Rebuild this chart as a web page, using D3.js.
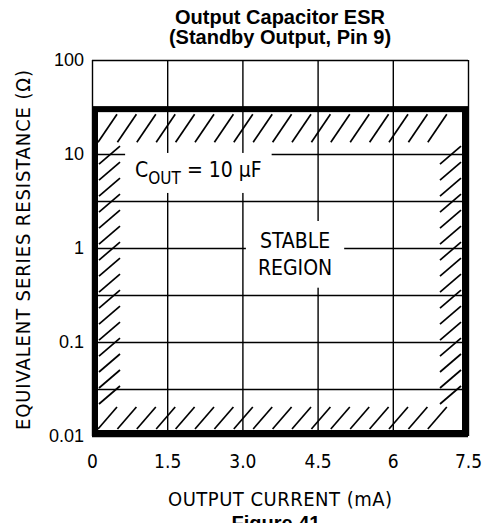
<!DOCTYPE html>
<html>
<head>
<meta charset="utf-8">
<script src="https://cdn.jsdelivr.net/npm/d3@7"></script>
<style>
  body { margin: 0; background: #fff; }
  svg { display: block; }
</style>
</head>
<body>
<script>
// chart values
var titleLines = ["Output Capacitor ESR", "(Standby Output, Pin 9)"];
var xTicks = [0, 1.5, 3.0, 4.5, 6, 7.5];
var xTickLabels = ["0", "1.5", "3.0", "4.5", "6", "7.5"];
var yTicks = [0.01, 0.1, 1, 10, 100];
var yTickLabels = ["0.01", "0.1", "1", "10", "100"];
var yGrid = [0.01, 0.0316, 0.1, 0.316, 1, 3.16, 10, 31.6, 100];
var stableCurrent = [0, 7.5];   // mA
var stableEsr = [0.01, 30];     // ohm
var xTitle = "OUTPUT CURRENT (mA)";
var yTitle = "EQUIVALENT SERIES RESISTANCE (\u03A9)";
var figLabel = "Figure 41";

var W = 485, H = 523;
var cond = "'DejaVu Sans Condensed', 'DejaVu Sans', sans-serif";
var arial = "'Liberation Sans', Arial, sans-serif";

var svg = d3.select("body").append("svg")
    .attr("width", W)
    .attr("height", H);

// scales
var x = d3.scaleLinear().domain([0, 7.5]).range([92, 468]);
var y = d3.scaleLog().domain([0.01, 100]).range([436, 60]);

// grid
var gx = svg.append("g")
    .attr("transform", "translate(0," + y(0.01) + ")")
    .call(d3.axisBottom(x).tickValues(xTicks).tickSize(-(y(0.01) - y(100))).tickFormat(""));
var gy = svg.append("g")
    .attr("transform", "translate(" + x(0) + ",0)")
    .call(d3.axisLeft(y).tickValues(yGrid).tickSize(-(x(7.5) - x(0))).tickFormat(""));
[gx, gy].forEach(function (g) {
    g.select(".domain").remove();
    g.selectAll(".tick line").attr("stroke", "#000").attr("stroke-width", 1.4);
});

// stable region frame
var sw = 6;
var fx0 = x(stableCurrent[0]) + sw / 2, fx1 = x(stableCurrent[1]) - sw / 2;
var fy0 = y(stableEsr[1]), fy1 = y(stableEsr[0]) - sw / 2;
svg.append("rect")
    .attr("x", fx0).attr("y", fy0)
    .attr("width", fx1 - fx0).attr("height", fy1 - fy0)
    .attr("fill", "none").attr("stroke", "#000").attr("stroke-width", sw);

// hatching along the inside of the frame
var L = fx0 + sw / 2, R = fx1 - sw / 2, T = fy0 + sw / 2, B = fy1 - sw / 2;
var hatch = [];
var xs;
for (xs = L; xs + 18 <= R; xs += 19.4) hatch.push([xs, T + 30, xs + 19, T + 2]);      // top
for (xs = L; xs + 19 <= R; xs += 19.4) hatch.push([xs, B - 1, xs + 19, B - 23]);      // bottom
var vy0 = T + 52, vy1 = B - 26, n = 16, k;
for (k = 0; k < n; k++) {
    var ys = vy0 + k * (vy1 - vy0) / (n - 1);
    hatch.push([L + 1, ys, L + 22, ys - 18]);                                           // left
    hatch.push([R - 22, ys, R - 1, ys - 18]);                                           // right
}
svg.append("g").selectAll("line").data(hatch).join("line")
    .attr("x1", function (d) { return d[0]; })
    .attr("y1", function (d) { return d[1]; })
    .attr("x2", function (d) { return d[2]; })
    .attr("y2", function (d) { return d[3]; })
    .attr("stroke", "#000").attr("stroke-width", 1.7);

// annotations (white boxes break the grid)
function boxed(g, padX, padY) {
    var b = g.node().getBBox();
    g.insert("rect", ":first-child")
        .attr("x", b.x - padX).attr("y", b.y - padY)
        .attr("width", b.width + 2 * padX).attr("height", b.height + 2 * padY)
        .attr("fill", "#fff");
}
var cout = svg.append("g");
var ct = cout.append("text")
    .attr("x", x(0.86)).attr("y", y(5.7))
    .attr("font-family", cond).attr("font-size", 21);
ct.append("tspan").text("C");
ct.append("tspan").attr("font-size", 17).attr("dy", 7).text("OUT");
ct.append("tspan").attr("dy", -7).text(" = 10 \u03BCF");
boxed(cout, 10, 5);

var stable = svg.append("g");
stable.append("text")
    .attr("x", x(4.05)).attr("y", y(1))
    .attr("text-anchor", "middle")
    .attr("font-family", cond).attr("font-size", 21)
    .text("STABLE");
stable.append("text")
    .attr("x", x(4.05)).attr("y", y(0.52))
    .attr("text-anchor", "middle")
    .attr("font-family", cond).attr("font-size", 21)
    .text("REGION");
boxed(stable, 12, 8);

// tick labels
var ay = svg.append("g")
    .attr("transform", "translate(" + x(0) + ",0)")
    .call(d3.axisLeft(y).tickValues(yTicks).tickSize(0).tickPadding(8)
        .tickFormat(function (d, i) { return yTickLabels[i]; }));
ay.select(".domain").remove();
ay.selectAll("text").attr("font-family", arial).attr("font-size", 18).attr("fill", "#000");

var ax = svg.append("g")
    .attr("transform", "translate(0," + y(0.01) + ")")
    .call(d3.axisBottom(x).tickValues(xTicks).tickSize(0).tickPadding(19)
        .tickFormat(function (d, i) { return xTickLabels[i]; }));
ax.select(".domain").remove();
ax.selectAll("text").attr("font-family", cond).attr("font-size", 19).attr("fill", "#000");

// titles, one text per line
svg.append("g").selectAll("text").data(titleLines).join("text")
    .attr("x", 280).attr("y", function (d, i) { return 24 + i * 20; })
    .attr("text-anchor", "middle")
    .attr("font-family", arial).attr("font-weight", "bold").attr("font-size", 20)
    .text(function (d) { return d; });

svg.append("text")
    .attr("x", 280).attr("y", 506)
    .attr("text-anchor", "middle")
    .attr("font-family", cond).attr("font-size", 20)
    .attr("textLength", 224).attr("lengthAdjust", "spacing")
    .text(xTitle);

svg.append("text")
    .attr("transform", "translate(30,250) rotate(-90)")
    .attr("text-anchor", "middle")
    .attr("font-family", cond).attr("font-size", 20)
    .attr("textLength", 360).attr("lengthAdjust", "spacing")
    .text(yTitle);

svg.append("text")
    .attr("x", 276).attr("y", 530)
    .attr("text-anchor", "middle")
    .attr("font-family", arial).attr("font-weight", "bold").attr("font-size", 20)
    .text(figLabel);
</script>
</body>
</html>
